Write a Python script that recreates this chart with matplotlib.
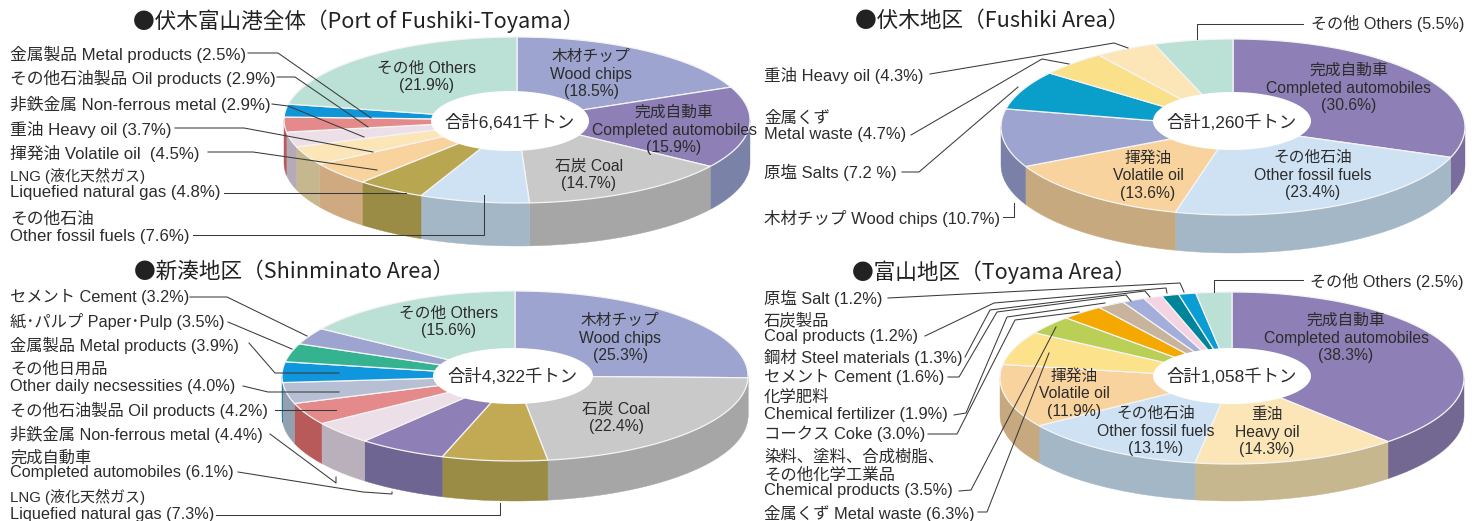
import numpy as np
from matplotlib import pyplot as plt

plt.rcParams['font.family'] = ['Liberation Sans', 'Noto Sans CJK JP', 'DejaVu Sans']

TEXT_COLOR = '#2c2c2c'
LINE_COLOR = '#3a3a3a'
TITLE_FONT = ['Noto Sans CJK JP', 'DejaVu Sans']

# ---- data, clockwise from 12 o'clock
all_values = [18.5, 15.9, 14.7, 7.6, 4.8, 4.5, 3.7, 2.9, 2.9, 2.5, 21.9]
all_top = ['#9ca4cf', '#8e80b6', '#c9c9c9', '#cfe2f4', '#b9a650', '#f9d39d', '#fce6b8', '#eddfe8',
           '#e58a8a', '#0f96d8', '#bbe0d6']
all_side = ['#7a80a4', '#7b82a8', '#a6a6a6', '#a3b7c6', '#9a8b45', '#cfa97f', '#c7b78e', '#b5aab8',
            '#b85a5a', '#0f76a8', '#92b2a8']

fushiki_values = [30.6, 23.4, 13.6, 10.7, 7.2, 4.7, 4.3, 5.5]
fushiki_top = ['#8e80b6', '#cfe2f4', '#f9d39d', '#9ca4cf', '#0a9ecb', '#fbe08a', '#fce6b8', '#bbe0d6']
fushiki_side = ['#7a6c9c', '#a3b7c6', '#c6a97f', '#7a80a8', '#0a7ea8', '#c8b46c', '#c7b78e', '#92b2a8']

shinminato_values = [25.3, 22.4, 7.3, 6.1, 4.4, 4.2, 4.0, 3.9, 3.5, 3.2, 15.6]
shinminato_top = ['#9ca4cf', '#c9c9c9', '#c2aa55', '#8e80b6', '#eddfe8', '#e58a8a', '#b6bfd4', '#0f96dc',
                  '#35b28f', '#9ca4cf', '#bbe0d6']
shinminato_side = ['#7a80a4', '#a6a6a6', '#9a8b45', '#6f6592', '#b9b0bb', '#b85a5a', '#93a0b0', '#0f76a8',
                   '#2a8a70', '#7a80a4', '#92b2a8']

toyama_values = [38.3, 14.3, 13.1, 11.9, 6.3, 3.5, 3.0, 1.9, 1.6, 1.3, 1.2, 1.2, 2.5]
toyama_top = ['#8e80b6', '#fce6b8', '#cfe2f4', '#f9d39d', '#fde28c', '#b9cf55', '#f5a800', '#c8b49c',
              '#a3aedb', '#f4d3e3', '#00849a', '#0a9dd3', '#bbe0d6']
toyama_side = ['#736892', '#c7b78e', '#a3b7c6', '#c6a97f', '#c8b46c', '#93a544', '#c48600', '#a08f7c',
               '#828bb0', '#c3a9b6', '#006a7b', '#087ea9', '#92b2a8']

# ---- texts
all_labels = ['金属製品 Metal products (2.5%)', 'その他石油製品 Oil products (2.9%)',
              '非鉄金属 Non-ferrous metal (2.9%)', '重油 Heavy oil (3.7%)', '揮発油 Volatile oil  (4.5%)',
              'LNG (液化天然ガス)', 'Liquefied natural gas (4.8%)', 'その他石油', 'Other fossil fuels (7.6%)']
fushiki_labels = ['重油 Heavy oil (4.3%)', '金属くず', 'Metal waste (4.7%)', '原塩 Salts (7.2 %)',
                  '木材チップ Wood chips (10.7%)']
shinminato_labels = ['セメント Cement (3.2%)', '紙･パルプ Paper･Pulp (3.5%)', '金属製品 Metal products (3.9%)',
                     'その他日用品', 'Other daily necsessities (4.0%)', 'その他石油製品 Oil products (4.2%)',
                     '非鉄金属 Non-ferrous metal (4.4%)', '完成自動車', 'Completed automobiles (6.1%)',
                     'LNG (液化天然ガス)', 'Liquefied natural gas (7.3%)']
toyama_labels = ['原塩 Salt (1.2%)', '石炭製品', 'Coal products (1.2%)', '鋼材 Steel materials (1.3%)',
                 'セメント Cement (1.6%)', '化学肥料', 'Chemical fertilizer (1.9%)', 'コークス Coke (3.0%)',
                 '染料、塗料、合成樹脂、', 'その他化学工業品', 'Chemical products (3.5%)', '金属くず Metal waste (6.3%)']

all_inner = ['その他 Others\n(21.9%)', '木材チップ\nWood chips\n(18.5%)',
             '完成自動車\nCompleted automobiles\n(15.9%)', '石炭 Coal\n(14.7%)']
fushiki_inner = ['完成自動車\nCompleted automobiles\n(30.6%)', 'その他石油\nOther fossil fuels\n(23.4%)',
                 '揮発油\nVolatile oil\n(13.6%)']
shinminato_inner = ['その他 Others\n(15.6%)', '木材チップ\nWood chips\n(25.3%)', '石炭 Coal\n(22.4%)']
toyama_inner = ['完成自動車\nCompleted automobiles\n(38.3%)', '重油\nHeavy oil\n(14.3%)',
                'その他石油\nOther fossil fuels\n(13.1%)', '揮発油\nVolatile oil\n(11.9%)']


def ellipse_points(cx, cy, rx, ry, a0, a1):
    # angles in degrees, clockwise from the top
    t = np.radians(np.linspace(a0, a1, max(int(abs(a1 - a0)) * 2, 2) + 1))
    return cx + rx * np.sin(t), cy - ry * np.cos(t)


def draw_pie(ax, values, top_colors, side_colors, cx, cy, rx, ry, depth, hole, total):
    edges = np.cumsum([0] + list(values)) / sum(values) * 360.0
    for i in range(len(values)):
        a0 = max(edges[i], 90.0)
        a1 = min(edges[i + 1], 270.0)
        if a1 > a0:
            x, y = ellipse_points(cx, cy, rx, ry, a0, a1)
            ax.fill(np.r_[x, x[::-1]], np.r_[y, y[::-1] + depth], color=side_colors[i], lw=0.3, zorder=2)
    for i in range(len(values)):
        x, y = ellipse_points(cx, cy, rx, ry, edges[i], edges[i + 1])
        ax.fill(np.r_[cx, x], np.r_[cy, y], facecolor=top_colors[i], edgecolor='#f4f4f4', lw=0.9, zorder=3)
    x, y = ellipse_points(hole[0], hole[1], hole[2], hole[3], 0, 360)
    ax.fill(x, y, color='white', lw=0, zorder=4)
    ax.text(hole[0], hole[1] + 1, total, fontsize=12.5, ha='center', va='center', color=TEXT_COLOR, zorder=6)


def draw_labels(ax, labels, positions, size=12.1):
    for s, (x, y) in zip(labels, positions):
        fs = 10.8 if s.startswith('LNG') else size
        ax.text(x, y, s, fontsize=fs, ha='left', va='center', color=TEXT_COLOR, zorder=6)


def draw_inner(ax, labels, positions, size=11.3):
    for s, (x, y) in zip(labels, positions):
        ax.text(x, y, s, fontsize=size, ha='center', va='center', color=TEXT_COLOR, zorder=6, linespacing=1.22)


def draw_leaders(ax, leaders):
    for pts in leaders:
        ax.plot([p[0] for p in pts], [p[1] for p in pts], color=LINE_COLOR, lw=0.75, zorder=5)


fig = plt.figure(figsize=(14.83, 5.21), dpi=100)
ax = fig.add_axes([0, 0, 1, 1])
ax.set_xlim(0, 1483)
ax.set_ylim(521, 0)
ax.axis('off')

draw_pie(ax, all_values, all_top, all_side, 517, 120, 233, 83, 43, (510, 121, 79, 30), '合計6,641千トン')
draw_pie(ax, fushiki_values, fushiki_top, fushiki_side, 1233, 127, 232, 88, 38, (1232, 121, 79, 29), '合計1,260千トン')
draw_pie(ax, shinminato_values, shinminato_top, shinminato_side, 515, 376, 233, 85, 40, (513, 376, 80, 28),
         '合計4,322千トン')
draw_pie(ax, toyama_values, toyama_top, toyama_side, 1232, 378, 232, 86, 37, (1232, 376, 79, 28), '合計1,058千トン')

ax.text(133, 21, '●伏木富山港全体（Port of Fushiki-Toyama）', fontsize=15.6, va='center', color='#222222', zorder=6,
        family=TITLE_FONT)
ax.text(855, 21, '●伏木地区（Fushiki Area）', fontsize=15.6, va='center', color='#222222', zorder=6, family=TITLE_FONT)
ax.text(134, 272, '●新湊地区（Shinminato Area）', fontsize=15.6, va='center', color='#222222', zorder=6, family=TITLE_FONT)
ax.text(852, 272, '●富山地区（Toyama Area）', fontsize=15.6, va='center', color='#222222', zorder=6, family=TITLE_FONT)

draw_labels(ax, all_labels, [(10, 54), (10, 78), (10, 104), (10, 129), (10, 153), (10, 176), (10, 193), (10, 219), (10, 236)])
draw_labels(ax, fushiki_labels, [(764, 75), (764, 118), (764, 135), (764, 172), (764, 218)], size=11.9)
draw_labels(ax, shinminato_labels, [(10, 297), (10, 321), (10, 345), (10, 369), (10, 387), (10, 410), (10, 434), (10, 458),
                                    (10, 473), (10, 497), (10, 515)], size=11.7)
draw_labels(ax, toyama_labels, [(764, 298), (764, 320), (764, 336), (764, 357), (764, 377), (764, 397), (764, 415),
                                (764, 434), (764, 457), (764, 475), (764, 491), (764, 513)], size=11.8)
ax.text(1464, 24, 'その他 Others (5.5%)', fontsize=11.6, ha='right', va='center', color=TEXT_COLOR, zorder=6)
ax.text(1464, 281, 'その他 Others (2.5%)', fontsize=11.6, ha='right', va='center', color=TEXT_COLOR, zorder=6)

draw_inner(ax, all_inner, [(427, 77), (591, 74), (674, 130), (589, 175)])
draw_inner(ax, fushiki_inner, [(1349, 88), (1313, 175), (1148, 176)])
draw_inner(ax, shinminato_inner, [(449, 322), (620, 338), (616, 418)])
draw_inner(ax, toyama_inner, [(1346, 338), (1267, 432), (1156, 431), (1074, 394)])

draw_leaders(ax, [[(248, 53), (278, 53), (371, 118)], [(277, 77), (295, 77), (368, 127)],
                  [(272, 104), (288, 106), (364, 137)], [(175, 128), (244, 128), (373, 152)],
                  [(208, 152), (253, 152), (377, 170)], [(224, 193), (406, 193)],
                  [(193, 235), (484, 235), (484, 195)]])
draw_leaders(ax, [[(1303, 24), (1197, 24), (1197, 39)], [(930, 74), (1114, 43), (1128, 48)],
                  [(911, 135), (1042, 59), (1069, 64)], [(902, 172), (919, 172), (1018, 87)],
                  [(1003, 217), (1014, 217), (1014, 203)]])
draw_leaders(ax, [[(190, 297), (227, 297), (307, 336)], [(228, 322), (292, 349)],
                  [(249, 343), (275, 373), (339, 373)], [(243, 386), (268, 392), (339, 392)],
                  [(275, 410), (336, 410)], [(270, 434), (336, 483), (336, 477)],
                  [(238, 472), (363, 492), (392, 494), (392, 492)], [(216, 515), (500, 515), (500, 503)]])
draw_leaders(ax, [[(1303, 280), (1214, 280), (1214, 292)], [(888, 298), (1180, 283), (1184, 292)],
                  [(925, 336), (994, 303), (1166, 288), (1167, 293)],
                  [(965, 357), (990, 310), (1145, 291), (1150, 297)],
                  [(948, 377), (959, 377), (997, 312), (1126, 295), (1131, 301)],
                  [(954, 415), (966, 413), (1007, 317), (1105, 303)],
                  [(928, 434), (957, 434), (1015, 320), (1079, 312)],
                  [(959, 491), (971, 490), (1056, 327)], [(978, 512), (987, 512), (1049, 353)]])

fig.savefig('out.png', dpi=100)
